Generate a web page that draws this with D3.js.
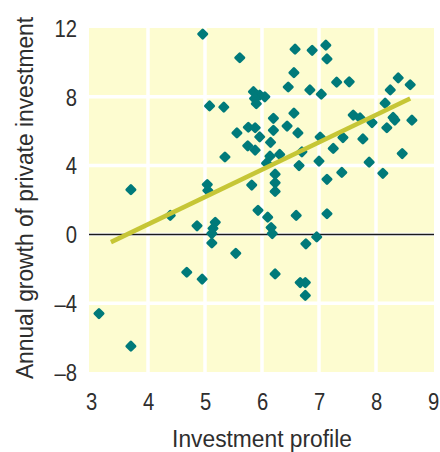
<!DOCTYPE html>
<html>
<head>
<meta charset="utf-8">
<script src="https://cdn.jsdelivr.net/npm/d3@7"></script>
<style>
  html, body { margin: 0; padding: 0; background: #ffffff; }
  svg { display: block; }
  text { font-family: "Liberation Sans", Arial, sans-serif; fill: #2e2e2e; }
</style>
</head>
<body>
<svg id="chart" width="440" height="452"></svg>
<script>
// ---- data ----
const profile = [3.14, 3.70, 3.70, 4.39, 4.68, 4.95, 4.86, 4.96, 5.08, 5.33,
  5.04, 5.05, 5.18, 5.14, 5.12, 5.12, 5.54, 5.35, 5.61, 5.85,
  5.96, 6.05, 5.90, 5.87, 5.56, 5.76, 5.88, 5.96, 5.75, 5.88,
  5.82, 5.93, 6.20, 6.20, 6.15, 6.14, 6.31, 6.08, 6.23, 6.23,
  6.23, 6.10, 6.16, 6.18, 6.23, 6.44, 6.46, 6.56, 6.58, 6.56,
  6.63, 6.70, 6.65, 6.60, 6.84, 6.88, 6.77, 6.67, 6.76, 6.76,
  6.96, 7.04, 7.12, 7.14, 7.02, 7.00, 7.14, 7.14, 7.25, 7.31,
  7.42, 7.40, 7.53, 7.60, 7.72, 7.77, 7.93, 7.88, 8.12, 8.16,
  8.19, 8.25, 8.30, 8.33, 8.39, 8.60, 8.63, 8.46];
const growth = [-4.6, -6.5, 2.6, 1.1, -2.2, -2.6, 0.5, 11.65, 7.47, 7.4,
  2.9, 2.55, 0.7, 0.35, 0.05, -0.5, -1.1, 4.5, 10.27, 8.3,
  8.1, 8.0, 7.6, 7.9, 5.9, 6.23, 6.2, 5.67, 5.15, 4.9,
  2.87, 1.4, 6.75, 6.05, 5.35, 4.55, 4.65, 4.14, 3.5, 3.0,
  2.5, 1.0, 0.4, 0.05, -2.3, 6.3, 8.57, 9.4, 10.77, 7.05,
  5.9, 4.8, 4.0, 1.1, 8.4, 10.7, -0.55, -2.8, -2.8, -3.55,
  -0.15, 8.15, 11.0, 10.2, 5.66, 4.26, 3.2, 1.2, 5.0, 8.85,
  5.63, 3.6, 8.87, 6.94, 6.77, 5.55, 6.5, 4.2, 3.55, 7.63,
  6.2, 8.4, 6.8, 6.65, 9.1, 8.7, 6.64, 4.7];
const trendX = [3.35, 8.6];
const trendY = [-0.45, 7.9];
const xTicks = [3, 4, 5, 6, 7, 8, 9];
const yTicks = [12, 8, 4, 0, -4, -8];
const xTitle = "Investment profile";
const yTitle = "Annual growth of private investment";

// ---- layout ----
const svg = d3.select("#chart");
const x = d3.scaleLinear().domain([3, 9]).range([91, 433]);
const y = d3.scaleLinear().domain([-8, 12]).range([372, 28]);

// background
svg.append("rect")
  .attr("x", x(3) - 2).attr("y", y(12))
  .attr("width", x(9) - x(3) + 3).attr("height", y(-8) - y(12))
  .attr("fill", "#fdfcd0");

// white grid
svg.append("g").selectAll("line").data(xTicks.slice(1, -1)).join("line")
  .attr("x1", d => x(d)).attr("x2", d => x(d))
  .attr("y1", y(12)).attr("y2", y(-8))
  .attr("stroke", "#ffffff").attr("stroke-width", 3.5);
svg.append("g").selectAll("line").data(yTicks.filter(d => d !== 12 && d !== -8)).join("line")
  .attr("x1", x(3) - 2).attr("x2", x(9) + 1)
  .attr("y1", d => y(d)).attr("y2", d => y(d))
  .attr("stroke", "#ffffff").attr("stroke-width", 3.5);

// zero line
svg.append("line")
  .attr("x1", x(3) - 2).attr("x2", x(9) + 1)
  .attr("y1", y(0)).attr("y2", y(0))
  .attr("stroke", "#1a1a1a").attr("stroke-width", 1.5);

// points
const pts = profile.map((v, i) => [v, growth[i]]);
const sym = d3.symbol().type(d3.symbolSquare).size(34);
svg.append("g").selectAll("path").data(pts).join("path")
  .attr("d", sym)
  .attr("transform", d => `translate(${x(d[0])},${y(d[1])}) rotate(45)`)
  .attr("fill", "#007a7a").attr("stroke", "#007a7a")
  .attr("stroke-width", 2.8).attr("stroke-linejoin", "round");

// trend line
svg.append("line")
  .attr("x1", x(trendX[0])).attr("y1", y(trendY[0]))
  .attr("x2", x(trendX[1])).attr("y2", y(trendY[1]))
  .attr("stroke", "#c6c636").attr("stroke-width", 4.5);

// axes (labels only)
const xAxis = d3.axisBottom(x).tickValues(xTicks).tickSize(0).tickPadding(0).tickFormat(d3.format("d"));
const gx = svg.append("g").attr("transform", `translate(0,${y(-8)})`).call(xAxis);
gx.attr("font-family", null).attr("font-size", null);
gx.select(".domain").remove();
gx.selectAll("text").attr("dy", null).attr("y", 38).attr("font-size", 23)
  .attr("transform", "scale(0.88,1)").attr("fill", "#2e2e2e");

const yAxis = d3.axisLeft(y).tickValues(yTicks).tickSize(0).tickPadding(0)
  .tickFormat(d => d < 0 ? "\u2013" + Math.abs(d) : String(d));
const gy = svg.append("g").attr("transform", `translate(77,0)`).call(yAxis);
gy.attr("font-family", null).attr("font-size", null);
gy.select(".domain").remove();
gy.selectAll("text").attr("x", 0).attr("dy", "0.36em").attr("font-size", 23)
  .attr("transform", "scale(0.88,1)").attr("fill", "#2e2e2e");

// titles
svg.append("text").attr("transform", "translate(262,447) scale(0.95,1)")
  .attr("text-anchor", "middle").attr("font-size", 24).text(xTitle);
svg.append("text").attr("transform", "translate(33,198) rotate(-90) scale(0.95,1)")
  .attr("text-anchor", "middle").attr("font-size", 24).text(yTitle);
</script>
</body>
</html>
